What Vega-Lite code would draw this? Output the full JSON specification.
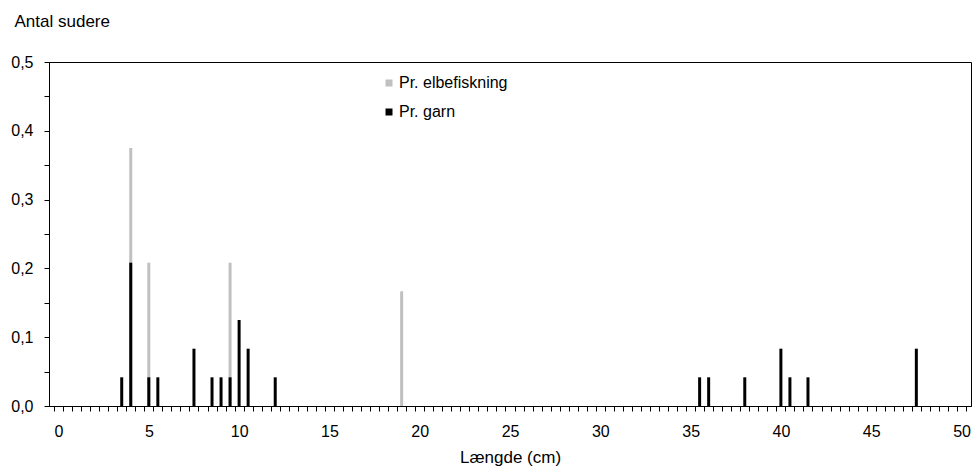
{
  "$schema": "https://vega.github.io/schema/vega-lite/v6.json",
  "width": 922,
  "height": 344,
  "autosize": {"type": "none"},
  "padding": {"left": 49, "top": 62, "right": 7, "bottom": 60},
  "background": "white",
  "config": {
    "font": "Liberation Sans",
    "view": {"stroke": "#000000", "strokeWidth": 1},
    "axis": {"domainColor": "#000000", "tickColor": "#000000", "labelColor": "#000000", "titleColor": "#000000", "grid": false}
  },
  "data": {
    "values": [
      {"laengde": 4, "antal": 0.375, "serie": "Pr. elbefiskning"},
      {"laengde": 5, "antal": 0.2083, "serie": "Pr. elbefiskning"},
      {"laengde": 9.5, "antal": 0.2083, "serie": "Pr. elbefiskning"},
      {"laengde": 19, "antal": 0.1667, "serie": "Pr. elbefiskning"},
      {"laengde": 3.5, "antal": 0.0417, "serie": "Pr. garn"},
      {"laengde": 4, "antal": 0.2083, "serie": "Pr. garn"},
      {"laengde": 5, "antal": 0.0417, "serie": "Pr. garn"},
      {"laengde": 5.5, "antal": 0.0417, "serie": "Pr. garn"},
      {"laengde": 7.5, "antal": 0.0833, "serie": "Pr. garn"},
      {"laengde": 8.5, "antal": 0.0417, "serie": "Pr. garn"},
      {"laengde": 9, "antal": 0.0417, "serie": "Pr. garn"},
      {"laengde": 9.5, "antal": 0.0417, "serie": "Pr. garn"},
      {"laengde": 10, "antal": 0.125, "serie": "Pr. garn"},
      {"laengde": 10.5, "antal": 0.0833, "serie": "Pr. garn"},
      {"laengde": 12, "antal": 0.0417, "serie": "Pr. garn"},
      {"laengde": 35.5, "antal": 0.0417, "serie": "Pr. garn"},
      {"laengde": 36, "antal": 0.0417, "serie": "Pr. garn"},
      {"laengde": 38, "antal": 0.0417, "serie": "Pr. garn"},
      {"laengde": 40, "antal": 0.0833, "serie": "Pr. garn"},
      {"laengde": 40.5, "antal": 0.0417, "serie": "Pr. garn"},
      {"laengde": 41.5, "antal": 0.0417, "serie": "Pr. garn"},
      {"laengde": 47.5, "antal": 0.0833, "serie": "Pr. garn"}
    ]
  },
  "mark": {"type": "bar", "size": 3, "stroke": null},
  "encoding": {
    "x": {
      "field": "laengde",
      "type": "quantitative",
      "scale": {"domain": [-0.25, 50.25], "nice": false, "zero": false},
      "axis": {
        "title": "Længde (cm)",
        "titleFontSize": 17,
        "titleFontWeight": "normal",
        "titleBaseline": "alphabetic",
        "titleY": 56,
        "values": [-0.25,0.25,0.75,1.25,1.75,2.25,2.75,3.25,3.75,4.25,4.75,5.25,5.75,6.25,6.75,7.25,7.75,8.25,8.75,9.25,9.75,10.25,10.75,11.25,11.75,12.25,12.75,13.25,13.75,14.25,14.75,15.25,15.75,16.25,16.75,17.25,17.75,18.25,18.75,19.25,19.75,20.25,20.75,21.25,21.75,22.25,22.75,23.25,23.75,24.25,24.75,25.25,25.75,26.25,26.75,27.25,27.75,28.25,28.75,29.25,29.75,30.25,30.75,31.25,31.75,32.25,32.75,33.25,33.75,34.25,34.75,35.25,35.75,36.25,36.75,37.25,37.75,38.25,38.75,39.25,39.75,40.25,40.75,41.25,41.75,42.25,42.75,43.25,43.75,44.25,44.75,45.25,45.75,46.25,46.75,47.25,47.75,48.25,48.75,49.25,49.75,50.25],
        "labelExpr": "abs((datum.value+0.25)/5 - round((datum.value+0.25)/5)) < 0.001 ? format(round(datum.value+0.25),'d') : ''",
        "labelOffset": 4.57,
        "labelFlush": false,
        "labelBound": false,
        "labelOverlap": false,
        "labelFontSize": 16,
        "labelPadding": 12,
        "tickSize": 5,
        "tickWidth": 1,
        "domainWidth": 1
      }
    },
    "y": {
      "field": "antal",
      "type": "quantitative",
      "stack": null,
      "scale": {"domain": [0, 0.5], "nice": false},
      "axis": {
        "title": "Antal sudere",
        "titleAngle": 0,
        "titleAlign": "left",
        "titleBaseline": "alphabetic",
        "titleX": -35,
        "titleY": -35.5,
        "titleFontSize": 17,
        "titleFontWeight": "normal",
        "values": [0,0.05,0.1,0.15,0.2,0.25,0.3,0.35,0.4,0.45,0.5],
        "labelExpr": "abs(datum.value*10 - round(datum.value*10)) < 0.001 ? replace(format(datum.value, '.1f'), '.', ',') : ''",
        "labelFlush": false,
        "labelOverlap": false,
        "labelFontSize": 16,
        "labelPadding": 11,
        "tickSize": 5,
        "tickWidth": 1,
        "domainWidth": 1
      }
    },
    "color": {
      "field": "serie",
      "type": "nominal",
      "scale": {"domain": ["Pr. elbefiskning", "Pr. garn"], "range": ["#c0c0c0", "#000000"]},
      "legend": {
        "title": null,
        "orient": "none",
        "legendX": 332,
        "legendY": 13,
        "padding": 0,
        "symbolType": "square",
        "symbolSize": 49,
        "symbolStrokeWidth": 0,
        "labelFontSize": 16,
        "labelOffset": 2,
        "rowPadding": 13,
        "labelColor": "#000000"
      }
    }
  }
}
